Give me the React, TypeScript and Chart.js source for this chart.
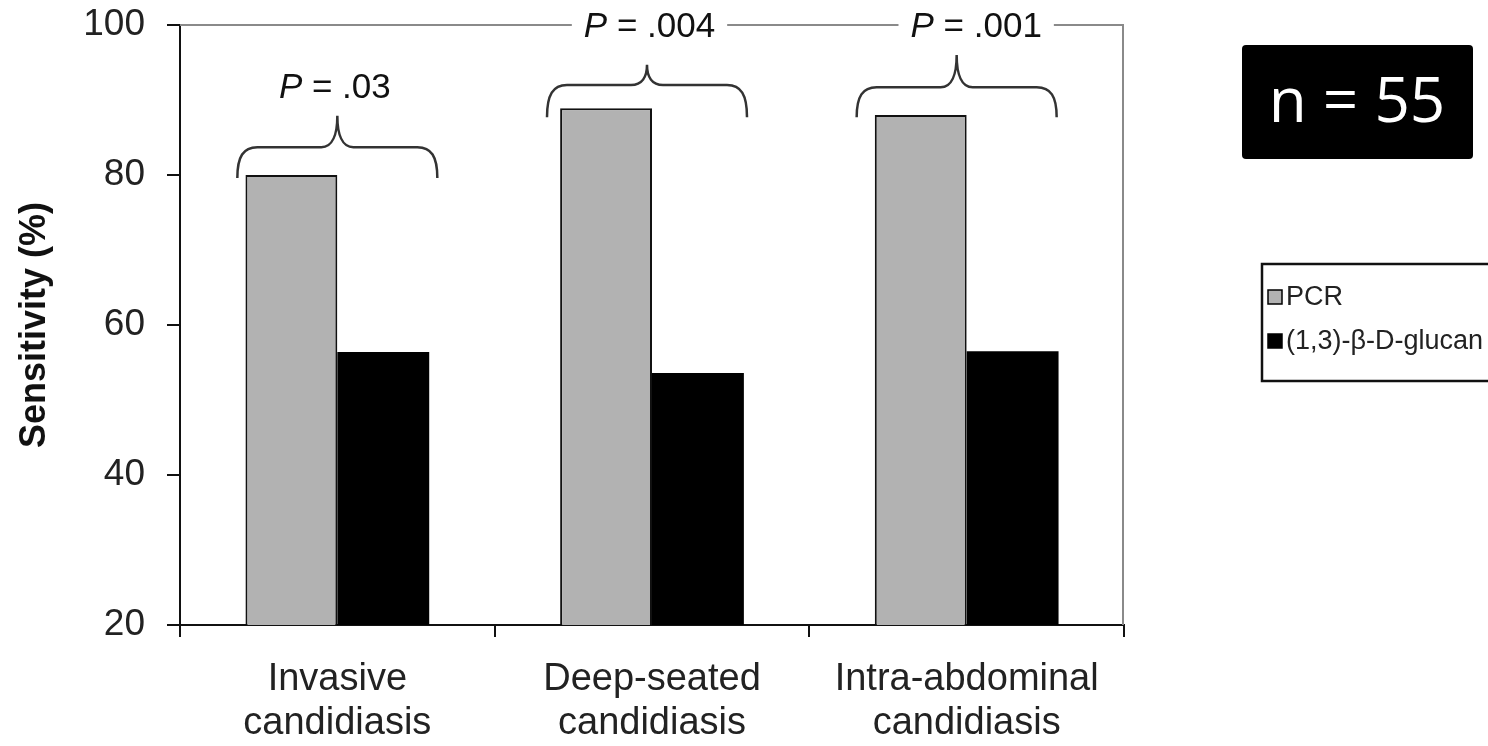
import React, { useEffect, useRef } from "react";
import { Chart, registerables } from "chart.js";

Chart.register(...registerables);

// ---- data ----
const categories: string[][] = [
  ["Invasive", "candidiasis"],
  ["Deep-seated", "candidiasis"],
  ["Intra-abdominal", "candidiasis"],
];
const seriesNames = ["PCR", "(1,3)-β-D-glucan"];
const pcrValues = [80, 88.9, 88];
const glucanValues = [56.4, 53.6, 56.5];
const yTickValues = [20, 40, 60, 80, 100];
const pLabels = [".03", ".004", ".001"];
const sampleLabel = "n = 55";

// ---- annotation geometry (value units for y, px offsets for x) ----
const braceEnds = [79.6, 87.7, 87.7];
const braceBars = [83.7, 92.0, 91.7];
const braceTips = [87.9, 94.7, 96.0];
const braceShift = [0, -5, -10];
const pLabelY = [91.6, 99.7, 99.7];
const pLabelShift = [-2.5, -2.5, 9.5];

const FONT = "'Liberation Sans', Arial, sans-serif";
const GRAY = "#b2b2b2";

function drawBrace(ctx: CanvasRenderingContext2D, cx: number, hw: number, yEnd: number, yH: number, yTip: number) {
  const L = cx - hw;
  const R = cx + hw;
  ctx.beginPath();
  ctx.moveTo(L, yEnd);
  ctx.bezierCurveTo(L, yH + (yEnd - yH) * 0.3, L + 6, yH, L + 20, yH);
  ctx.lineTo(cx - 16, yH);
  ctx.bezierCurveTo(cx - 5, yH, cx, yH - (yH - yTip) * 0.4, cx, yTip);
  ctx.bezierCurveTo(cx, yH - (yH - yTip) * 0.4, cx + 5, yH, cx + 16, yH);
  ctx.lineTo(R - 20, yH);
  ctx.bezierCurveTo(R - 6, yH, R, yH + (yEnd - yH) * 0.3, R, yEnd);
  ctx.stroke();
}

function drawPLabel(ctx: CanvasRenderingContext2D, cx: number, cy: number, value: string) {
  const size = 35;
  const italic = `italic ${size}px ${FONT}`;
  const normal = `${size}px ${FONT}`;
  ctx.font = italic;
  const wP = ctx.measureText("P").width;
  ctx.font = normal;
  const rest = " = " + value;
  const wR = ctx.measureText(rest).width;
  const total = wP + wR;
  const x0 = cx - total / 2;
  ctx.fillStyle = "#ffffff";
  ctx.fillRect(x0 - 12, cy - 20, total + 24, 40);
  ctx.fillStyle = "#111";
  ctx.textBaseline = "middle";
  ctx.textAlign = "left";
  ctx.font = italic;
  ctx.fillText("P", x0, cy);
  ctx.font = normal;
  ctx.fillText(rest, x0 + wP, cy);
}

const annotationPlugin = {
  id: "annotations",
  afterDraw(chart: any) {
    const ctx: CanvasRenderingContext2D = chart.ctx;
    const { left, right, top, bottom } = chart.chartArea;
    const xs = chart.scales.x;
    const ys = chart.scales.y;
    ctx.save();

    // gray frame top and right
    ctx.strokeStyle = "#8a8a8a";
    ctx.lineWidth = 2;
    ctx.beginPath();
    ctx.moveTo(left, top);
    ctx.lineTo(right - 1, top);
    ctx.lineTo(right - 1, bottom);
    ctx.stroke();

    // braces
    ctx.strokeStyle = "#333";
    ctx.lineWidth = 2.5;
    categories.forEach((_, i) => {
      const cx = xs.getPixelForValue(i) + braceShift[i];
      drawBrace(ctx, cx, 100, ys.getPixelForValue(braceEnds[i]), ys.getPixelForValue(braceBars[i]), ys.getPixelForValue(braceTips[i]));
    });

    // P labels
    pLabels.forEach((p, i) => {
      const cx = xs.getPixelForValue(i) + pLabelShift[i];
      drawPLabel(ctx, cx, ys.getPixelForValue(pLabelY[i]), p);
    });

    // legend box
    const lx = 1262, ly = 264, lw = 240, lh = 117;
    ctx.fillStyle = "#fff";
    ctx.fillRect(lx, ly, lw, lh);
    ctx.strokeStyle = "#111";
    ctx.lineWidth = 2.5;
    ctx.strokeRect(lx, ly, lw, lh);
    chart.data.datasets.forEach((ds: any, i: number) => {
      const cy = 297 + i * 44;
      ctx.fillStyle = ds.backgroundColor;
      ctx.fillRect(1268, cy - 7, 14, 14);
      ctx.strokeStyle = "#000";
      ctx.lineWidth = 1.5;
      ctx.strokeRect(1268, cy - 7, 14, 14);
      ctx.fillStyle = "#222";
      ctx.font = `27px ${FONT}`;
      ctx.textAlign = "left";
      ctx.textBaseline = "middle";
      ctx.fillText(ds.label, 1286, cy + 1);
    });

    // n = 55 box
    ctx.fillStyle = "#000";
    ctx.beginPath();
    (ctx as any).roundRect(1242, 45, 231, 114, 4);
    ctx.fill();
    ctx.fillStyle = "#fff";
    ctx.font = `62px 'Open Sans', 'Noto Sans', sans-serif`;
    ctx.textAlign = "center";
    ctx.textBaseline = "middle";
    ctx.fillText(sampleLabel, 1357, 104);

    ctx.restore();
  },
};

export default function App() {
  const ref = useRef<HTMLCanvasElement | null>(null);
  useEffect(() => {
    if (!ref.current) return;
    const chart = new Chart(ref.current, {
      type: "bar",
      data: {
        labels: categories as any,
        datasets: [
          {
            label: seriesNames[0],
            data: pcrValues,
            backgroundColor: GRAY,
            borderColor: "#111",
            borderWidth: 2,
            categoryPercentage: 0.584,
            barPercentage: 1.0,
          },
          {
            label: seriesNames[1],
            data: glucanValues,
            backgroundColor: "#000000",
            borderColor: "#000",
            borderWidth: 0,
            categoryPercentage: 0.584,
            barPercentage: 1.0,
          },
        ],
      },
      options: {
        responsive: false,
        animation: false,
        layout: { padding: { top: 25, right: 364, left: 0, bottom: 0 } },
        plugins: { legend: { display: false }, tooltip: { enabled: false } },
        scales: {
          x: {
            grid: { display: true, drawOnChartArea: false, drawTicks: true, tickLength: 12, color: "#111", lineWidth: 2, offset: true },
            border: { display: true, color: "#111", width: 2 },
            ticks: { color: "#222", font: { family: FONT, size: 38, lineHeight: 1.15 }, padding: 21, maxRotation: 0, autoSkip: false },
            afterFit: (s: any) => { s.height = 121; s.paddingLeft = 0; s.paddingRight = 0; },
          },
          y: {
            min: 20,
            max: 100,
            afterBuildTicks: (s: any) => { s.ticks = yTickValues.map((v) => ({ value: v })); },
            grid: { display: true, drawOnChartArea: false, drawTicks: true, tickLength: 13, color: "#111", lineWidth: 2 },
            border: { display: true, color: "#111", width: 2 },
            ticks: { color: "#222", font: { family: FONT, size: 37 }, padding: 22 },
            title: { display: true, text: "Sensitivity (%)", color: "#111", font: { family: FONT, size: 36, weight: "bold", lineHeight: 1.2 }, padding: { top: 13, bottom: 0 } },
            afterFit: (s: any) => { s.width = 180; s.paddingTop = 0; s.paddingBottom = 0; },
          },
        },
      },
      plugins: [annotationPlugin],
    });
    return () => chart.destroy();
  }, []);
  return (
    <div style={{ position: "fixed", left: 0, top: 0, width: 1488, height: 746, background: "#fff" }}>
      <canvas ref={ref} width={1488} height={746} />
    </div>
  );
}
